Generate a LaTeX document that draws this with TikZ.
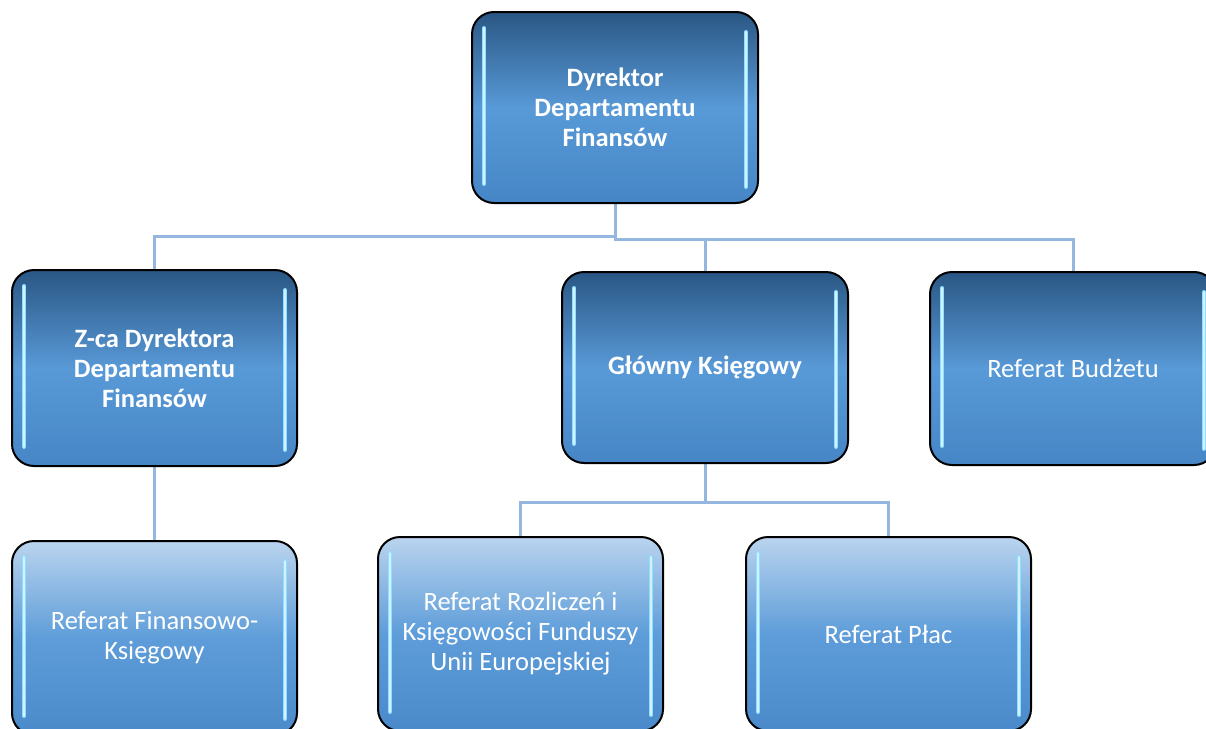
\documentclass[tikz,border=0pt]{standalone}
\usepackage{fontspec}
\setmainfont{Carlito}
\usetikzlibrary{calc,backgrounds}
\definecolor{darktop}{HTML}{2A5784}
\definecolor{darkmid}{HTML}{5899D7}
\definecolor{darkbot}{HTML}{4686C6}
\definecolor{lighttop}{HTML}{BAD4EE}
\definecolor{lightmid}{HTML}{5E9DD9}
\definecolor{lightbot}{HTML}{4A8ACA}
\definecolor{connc}{HTML}{95B6DE}
\definecolor{glintc}{HTML}{8EDFFF}
\tikzset{
  unit/.style={draw=black, line width=2pt, rounded corners=22pt, inner sep=0pt, outer sep=0pt,
    text=white, align=center, font=\fontsize{26.5}{30}\selectfont},
  lead/.style={unit, top color=darktop, bottom color=darkbot, middle color=darkmid, font=\fontsize{26.5}{30}\selectfont\bfseries},
  sub/.style={unit, top color=darktop, bottom color=darkbot, middle color=darkmid},
  leaf/.style={unit, top color=lighttop, bottom color=lightbot, middle color=lightmid},
  conn/.style={draw=connc, line width=3pt},
  glint/.style={draw=glintc, line width=4pt, line cap=round},
  glintcore/.style={draw=white!60!glintc, line width=1.5pt, line cap=round}
}
\newcommand\glint[1]{%
  \draw[glint] ($(#1.north west)+(12,16)$) -- ($(#1.south west)+(12,-19)$);
  \draw[glintcore] ($(#1.north west)+(12,16)$) -- ($(#1.south west)+(12,-19)$);
  \draw[glint] ($(#1.north east)+(-12,20)$) -- ($(#1.south east)+(-12,-16)$);
  \draw[glintcore] ($(#1.north east)+(-12,20)$) -- ($(#1.south east)+(-12,-16)$);
}
\begin{document}
\begin{tikzpicture}[x=1pt,y=-1pt]
\clip (0,0) rectangle (1206,728);
\node[lead, minimum width=286pt, minimum height=191pt] (top) at (615,107.5) {Dyrektor\\Departamentu\\Finansów};
\node[lead, minimum width=285pt, minimum height=196pt] (zca) at (154.5,368) {Z-ca Dyrektora\\Departamentu\\Finansów};
\node[lead, minimum width=286pt, minimum height=191pt] (glowny) at (705,367.5) {Główny Księgowy};
\node[sub, minimum width=286pt, minimum height=193pt] (budzet) at (1073,368.5) {Referat Budżetu};
\node[leaf, minimum width=285pt, minimum height=194pt] (finks) at (154.5,638) {Referat Finansowo-\\Księgowy};
\node[leaf, minimum width=285pt, minimum height=194pt] (rozl) at (520.5,634) {Referat Rozliczeń i\\Księgowości Funduszy\\Unii Europejskiej};
\node[leaf, minimum width=285pt, minimum height=194pt] (place) at (888.5,634) {Referat Płac};
\glint{top}
\glint{zca}
\glint{glowny}
\glint{budzet}
\glint{finks}
\glint{rozl}
\glint{place}
\begin{scope}[on background layer]
\fill[white] (0,0) rectangle (1206,728);
\draw[conn] (top.south) -- ++(0,33) -| (zca.north);
\draw[conn] (top.south) -- ++(0,36) -| (glowny.north);
\draw[conn] (top.south) -- ++(0,36) -| (budzet.north);
\draw[conn] (zca.south) -- (finks.north);
\draw[conn] (glowny.south) -- ++(0,39) -| (rozl.north);
\draw[conn] (glowny.south) -- ++(0,39) -| (place.north);
\end{scope}
\end{tikzpicture}
\end{document}
